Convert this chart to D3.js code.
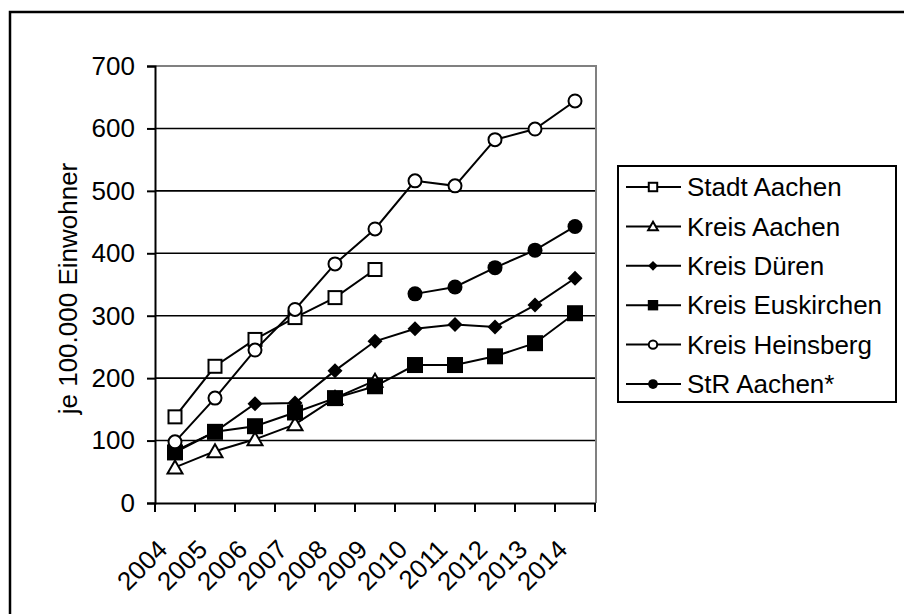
<!DOCTYPE html>
<html><head><meta charset="utf-8">
<script src="https://cdn.jsdelivr.net/npm/d3@7"></script>
<style>body{margin:0;background:#fff}svg{display:block}text{font-family:"Liberation Sans",Arial,sans-serif;fill:#000}</style>
</head><body><svg id="c" width="904" height="614"></svg>
<script>
const years = ["2004","2005","2006","2007","2008","2009","2010","2011","2012","2013","2014"];
const stadtAachen = [138, 219, 262, 297, 329, 374, null, null, null, null, null];
const kreisAachen = [57, 83, 102, 126, 168, 196, null, null, null, null, null];
const kreisDueren = [83, 114, 159, 160, 212, 259, 279, 286, 282, 317, 360];
const kreisEuskirchen = [81, 114, 123, 145, 168, 187, 221, 221, 235, 256, 304];
const kreisHeinsberg = [98, 168, 245, 310, 383, 439, 516, 508, 582, 599, 644];
const strAachen = [null, null, null, null, null, null, 335, 346, 377, 405, 443];
const yTicks = [0, 100, 200, 300, 400, 500, 600, 700];
const seriesNames = ["Stadt Aachen","Kreis Aachen","Kreis Düren","Kreis Euskirchen","Kreis Heinsberg","StR Aachen*"];
const seriesValues = [stadtAachen, kreisAachen, kreisDueren, kreisEuskirchen, kreisHeinsberg, strAachen];
const markerTypes = ["square-open","triangle-open","diamond","square-filled","circle-open","circle-filled"];

const svg = d3.select("#c");
// outer chart border (extends beyond canvas)
svg.append("rect").attr("x",10).attr("y",12).attr("width",1000).attr("height",1000)
  .attr("fill","none").attr("stroke","#000").attr("stroke-width",2.5);

const L=155, T=66, R=595, B=503;
const x = d3.scaleBand().domain(years).range([L,R]).padding(0);
const y = d3.scaleLinear().domain([0,700]).range([B,T]);

// gridlines
svg.append("g").selectAll("line").data(yTicks.filter(d=>d>0 && d<700)).join("line")
  .attr("x1",L).attr("x2",R).attr("y1",d=>y(d)).attr("y2",d=>y(d))
  .attr("stroke","#000").attr("stroke-width",1.6);
// plot frame top/right grey
svg.append("path").attr("d",`M${L},${y(700)}H${R+1}V${B}`).attr("fill","none")
  .attr("stroke","#808080").attr("stroke-width",2);

// y axis
const ya = svg.append("g").attr("transform",`translate(${L},0)`)
  .call(d3.axisLeft(y).tickValues(yTicks).tickSize(8).tickPadding(12).tickFormat(d3.format("d")));
ya.select(".domain").attr("stroke","#000").attr("stroke-width",2);
ya.selectAll(".tick line").attr("stroke","#000").attr("stroke-width",2);
ya.selectAll(".tick text").style("font-size","26px").attr("font-family","Liberation Sans, Arial, sans-serif");

// x axis
const xa = svg.append("g").attr("transform",`translate(0,${B})`)
  .call(d3.axisBottom(x).tickSize(0).tickFormat(""));
xa.select(".domain").attr("stroke","#000").attr("stroke-width",2);
const tickPos = years.map(d=>x(d)).concat([x(years[years.length-1])+x.bandwidth()]);
svg.append("g").selectAll("line").data(tickPos).join("line")
  .attr("x1",d=>d).attr("x2",d=>d).attr("y1",B).attr("y2",B+9)
  .attr("stroke","#000").attr("stroke-width",2);
svg.append("g").selectAll("text").data(years).join("text")
  .attr("transform",d=>`translate(${x(d)+x.bandwidth()/2-6},${B+48}) rotate(-45)`)
  .attr("text-anchor","end").style("font-size","26px").text(d=>d);

// y title
svg.append("text").attr("transform",`translate(77,${(T+B)/2+4}) rotate(-90)`)
  .attr("text-anchor","middle").style("font-size","26px").text("je 100.000 Einwohner");

function drawMarker(g, type, cx, cy, scale){
  const s = scale||1;
  if(type==="square-open") g.append("rect").attr("x",cx-6.5*s).attr("y",cy-6.5*s).attr("width",13*s).attr("height",13*s).attr("fill","#fff").attr("stroke","#000").attr("stroke-width",2);
  else if(type==="square-filled") g.append("rect").attr("x",cx-8*s).attr("y",cy-8*s).attr("width",16*s).attr("height",16*s).attr("fill","#000");
  else if(type==="circle-open") g.append("circle").attr("cx",cx).attr("cy",cy).attr("r",6.5*s).attr("fill","#fff").attr("stroke","#000").attr("stroke-width",2);
  else if(type==="circle-filled") g.append("circle").attr("cx",cx).attr("cy",cy).attr("r",7.5*s).attr("fill","#000");
  else if(type==="diamond") g.append("path").attr("d",`M${cx},${cy-7.5*s}L${cx+7.5*s},${cy}L${cx},${cy+7.5*s}L${cx-7.5*s},${cy}Z`).attr("fill","#000");
  else if(type==="triangle-open") g.append("path").attr("d",`M${cx},${cy-7*s}L${cx+7.5*s},${cy+6*s}L${cx-7.5*s},${cy+6*s}Z`).attr("fill","#fff").attr("stroke","#000").attr("stroke-width",2);
}

const line = d3.line().defined(d=>d.v!=null).x(d=>x(d.year)+x.bandwidth()/2).y(d=>y(d.v));
seriesValues.forEach((vals,i)=>{
  const pts = years.map((yr,j)=>({year:yr,v:vals[j]}));
  const g = svg.append("g");
  g.append("path").attr("d",line(pts)).attr("fill","none").attr("stroke","#000").attr("stroke-width",2);
  pts.filter(p=>p.v!=null).forEach(p=>drawMarker(g, markerTypes[i], x(p.year)+x.bandwidth()/2, y(p.v)));
});

// legend
const lg = svg.append("g");
lg.append("rect").attr("x",618).attr("y",166).attr("width",278).attr("height",236)
  .attr("fill","#fff").attr("stroke","#000").attr("stroke-width",2);
const rowY = d3.scaleLinear().domain([0,5]).range([187,384]);
seriesNames.forEach((n,i)=>{
  const yy = rowY(i);
  lg.append("line").attr("x1",626).attr("x2",681).attr("y1",yy).attr("y2",yy).attr("stroke","#000").attr("stroke-width",2);
  drawMarker(lg, markerTypes[i], 653, yy, 0.65);
  lg.append("text").attr("x",687).attr("y",yy).attr("dy","0.35em").style("font-size","26px").text(n);
});
</script></body></html>
